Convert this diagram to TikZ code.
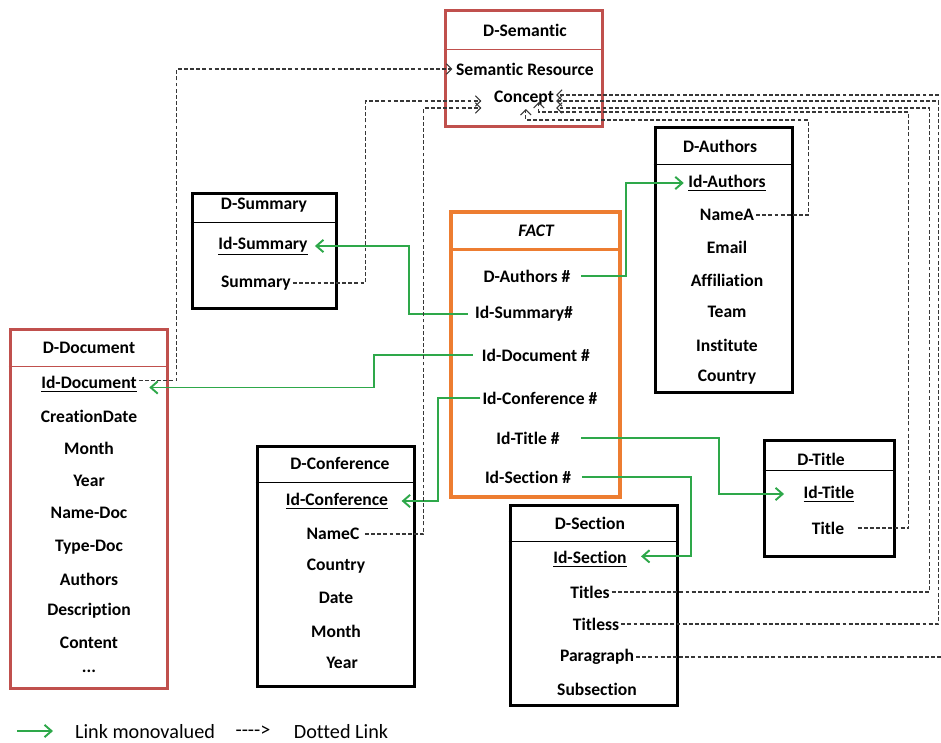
\documentclass[tikz,border=0pt]{standalone}
\usepackage{fontspec}
\setmainfont{Carlito}[Ligatures={TeX,NoCommon}]
\usetikzlibrary{arrows.meta}
\definecolor{docred}{RGB}{192,80,77}
\definecolor{factorange}{RGB}{237,125,49}
\definecolor{linkgreen}{RGB}{46,168,74}
\definecolor{dotgray}{RGB}{55,55,55}
\tikzset{
  fld/.style={inner sep=1pt, font=\bfseries\fontsize{10}{12}\selectfont},
  tbl/.style={draw, line width=1.7pt, inner sep=0pt},
  sepl/.style={line width=1pt},
  monolink/.style={draw=linkgreen, line width=1.1pt, -{Straight Barb[length=4pt,width=7pt]}},
  dotlink/.style={draw=dotgray, line width=0.6pt, dash pattern=on 2.2pt off 1.3pt, -{Straight Barb[length=3pt,width=6pt]}},
  legend/.style={inner sep=1pt, font=\fontsize{11.5}{14}\selectfont}
}
\begin{document}
\begin{tikzpicture}[x=0.02cm, y=-0.02cm]
\useasboundingbox (0,0) rectangle (941,743);
\clip (0,0) rectangle (941,743);

% tables
\node[tbl, docred, minimum width=3.16cm, minimum height=2.34cm] (dsembox) at (524,68.5) {};
\draw[sepl, docred] (dsembox.north west) ++(0,41) -- ++(158,0);
\node[fld] (dsem) at (525,30) {D-Semantic};
\node[fld] (semres) at (525,69) {Semantic Resource};
\node[fld] (concept) at (524,98) {Concept};

\node[tbl, minimum width=2.76cm, minimum height=5.32cm] (dauthbox) at (724,260) {};
\draw[sepl] (dauthbox.north west) ++(0,39) -- ++(138,0);
\node[fld] (dauth) at (720,146) {D-Authors};
\node[fld] (idauth) at (727,183) {\underline{Id-Authors}};
\node[fld] (namea) at (727,215) {NameA};
\node[fld] (email) at (727,247) {Email};
\node[fld] (affil) at (727,280) {Affiliation};
\node[fld] (team) at (727,312) {Team};
\node[fld] (inst) at (727,345) {Institute};
\node[fld] (acountry) at (727,377) {Country};

\node[tbl, minimum width=2.90cm, minimum height=2.32cm] (dsumbox) at (264.5,251) {};
\draw[sepl] (dsumbox.north west) ++(0,31) -- ++(145,0);
\node[fld] (dsum) at (264,205) {D-Summary};
\node[fld] (idsum) at (263,246) {\underline{Id-Summary}};
\node[fld] (summ) at (256,283) {Summary};

\node[tbl, factorange, line width=2pt, minimum width=3.38cm, minimum height=5.70cm] (factbox) at (535.5,354.5) {};
\draw[sepl, factorange, line width=1.5pt] (factbox.north west) ++(0,39) -- ++(169,0);
\node[fld, font=\bfseries\itshape\fontsize{10}{12}\selectfont] (fact) at (536,231) {FACT};
\node[fld] (fauth) at (527,276) {D-Authors \#};
\node[fld] (fsum) at (524,314) {Id-Summary\#};
\node[fld] (fdoc) at (536,355) {Id-Document \#};
\node[fld] (fconf) at (540,398) {Id-Conference \#};
\node[fld] (ftitle) at (528,438) {Id-Title \#};
\node[fld] (fsec) at (528,477) {Id-Section \#};

\node[tbl, docred, minimum width=3.16cm, minimum height=7.20cm] (ddocbox) at (89,509) {};
\draw[sepl, docred] (ddocbox.north west) ++(0,39) -- ++(158,0);
\node[fld] (ddoc) at (89,348) {D-Document};
\node[fld] (iddoc) at (89,384) {\underline{Id-Document}};
\node[fld] (cdate) at (89,416) {CreationDate};
\node[fld] (dmonth) at (89,448) {Month};
\node[fld] (dyear) at (89,481) {Year};
\node[fld] (namedoc) at (89,513) {Name-Doc};
\node[fld] (typedoc) at (89,547) {Type-Doc};
\node[fld] (dauthors) at (89,579) {Authors};
\node[fld] (descr) at (89,611) {Description};
\node[fld] (content) at (89,643) {Content};
\node[fld] (ddots) at (89,671) {...};

\node[tbl, minimum width=3.16cm, minimum height=4.82cm] (dconfbox) at (336,566.5) {};
\draw[sepl] (dconfbox.north west) ++(0,38) -- ++(158,0);
\node[fld] (dconf) at (340,463) {D-Conference};
\node[fld] (idconf) at (337,501) {\underline{Id-Conference}};
\node[fld] (namec) at (333,534) {NameC};
\node[fld] (ccountry) at (336,566) {Country};
\node[fld] (cdate2) at (336,598) {Date};
\node[fld] (cmonth) at (336,631) {Month};
\node[fld] (cyear) at (342,663) {Year};

\node[tbl, minimum width=3.36cm, minimum height=4.02cm] (dsecbox) at (594,605.5) {};
\draw[sepl] (dsecbox.north west) ++(0,38) -- ++(168,0);
\node[fld] (dsec) at (590,523) {D-Section};
\node[fld] (idsec) at (590,559) {\underline{Id-Section}};
\node[fld] (titles) at (590,592) {Titles};
\node[fld] (titless) at (596,624) {Titless};
\node[fld] (para) at (597,657) {Paragraph};
\node[fld] (subsec) at (597,689) {Subsection};

\node[tbl, minimum width=2.62cm, minimum height=2.34cm] (dtitlebox) at (829.5,498.5) {};
\draw[sepl] (dtitlebox.north west) ++(0,32) -- ++(131,0);
\node[fld] (dtitle) at (821,459) {D-Title};
\node[fld] (idtitle) at (829,494) {\underline{Id-Title}};
\node[fld] (title) at (828,528) {Title};

% monovalued links
\draw[monolink] ([xshift=5pt]fauth.east) -- ++(45,0) |- ([xshift=-1.5pt]idauth.west);
\draw[monolink] ([xshift=-3pt]fsum.west) -- ++(-59,0) |- ([xshift=3pt]idsum.east);
\draw[monolink] ([xshift=-4pt]fdoc.west) -- ++(-99,0) |- ([xshift=6pt,yshift=-2pt]iddoc.east);
\draw[monolink] (fconf.west) -- ++(-42,0) |- ([xshift=6.5pt]idconf.east);
\draw[monolink] ([xshift=11pt]ftitle.east) -- ++(138,0) |- ([xshift=-10pt]idtitle.west);
\draw[monolink] ([xshift=5pt]fsec.east) -- ++(109,0) |- ([xshift=7pt,yshift=1.5pt]idsec.east);

% dotted links
\draw[dotlink] ([yshift=2pt]iddoc.east) -- ++(38,0) |- ([xshift=-1pt]semres.west);
\draw[dotlink] (summ.east) -- ++(73,0) |- ([xshift=-6pt,yshift=-1.7pt]concept.west);
\draw[dotlink] ([xshift=2pt]namec.east) -- ++(59,0) |- ([xshift=-6pt,yshift=-5.7pt]concept.west);
\draw[dotlink] (namea.east) -- ++(52,0) -- ++(0,-95) -| ([xshift=1pt,yshift=-1pt]concept.south);
\draw[dotlink] ([xshift=6.5pt]title.east) -- ++(51,0) -- ++(0,-416) -| ([xshift=8.5pt,yshift=3pt]concept.south);
\draw[dotlink] (titles.east) -- ++(318,0) |- ([yshift=-5.7pt]concept.east);
\draw[dotlink] (titless.east) -- ++(317,0) |- ([yshift=-1.7pt]concept.east);
\draw[dotlink] (para.east) -- ++(310,0) |- ([yshift=1.7pt]concept.east);

% legend
\coordinate (lga) at (17,731);
\coordinate (lgb) at (53,731);
\draw[monolink] (lga) -- (lgb);
\node[legend] (lgmono) at (145,732) {Link monovalued};
\node[legend] (lgdash) at (253,731) {-{}-{}-{}->};
\node[legend] (lgdot) at (341,732) {Dotted Link};
\end{tikzpicture}
\end{document}
